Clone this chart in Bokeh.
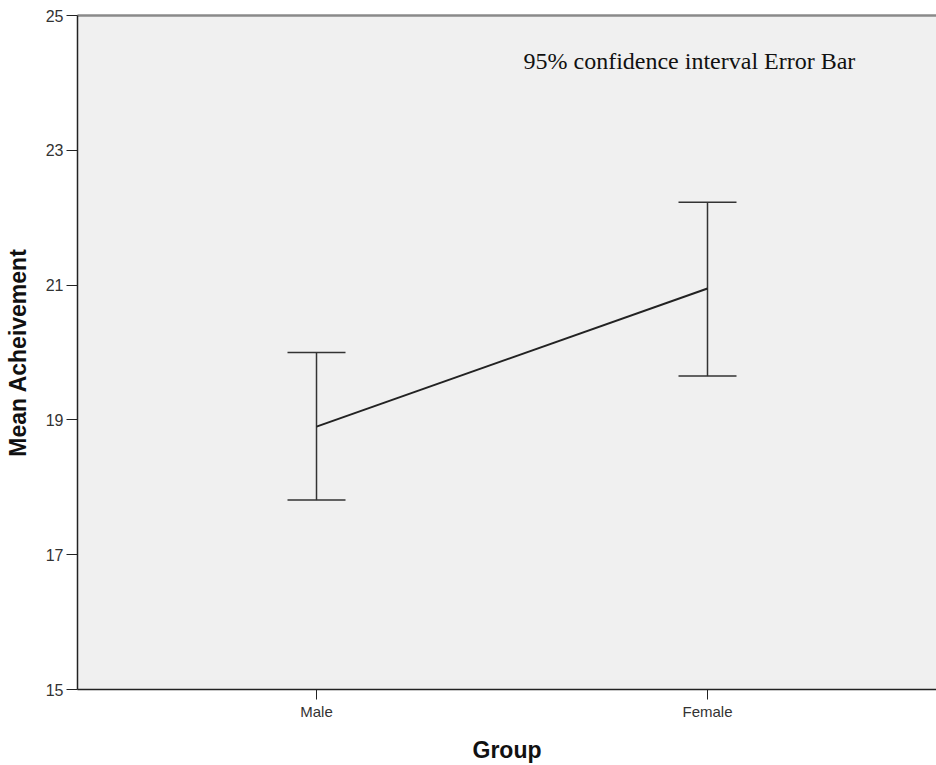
from bokeh.plotting import figure
from bokeh.models import (ColumnDataSource, Whisker, TeeHead, Label, FixedTicker,
                          Range1d, LinearAxis)
from bokeh.embed import file_html
from bokeh.resources import INLINE

groups = ["Male", "Female"]
group_pos = [1, 2]
means = [18.90, 20.95]
upper = [20.00, 22.23]
lower = [17.81, 19.65]
y_ticks = [15, 17, 19, 21, 23, 25]

src = ColumnDataSource(dict(x=group_pos, mean=means, upper=upper, lower=lower))

p = figure(width=936, height=765, output_backend="svg", toolbar_location=None,
           x_range=Range1d(0.3887, 2.5857), y_range=Range1d(15, 25),
           min_border_left=77, min_border_right=0, min_border_top=15, min_border_bottom=74)
p.background_fill_color = "#f0f0f0"
p.border_fill_color = "white"
p.outline_line_color = None
p.xgrid.visible = False
p.ygrid.visible = False

for ax in (p.xaxis[0], p.yaxis[0]):
    ax.axis_line_color = "#222222"
    ax.axis_line_width = 1.5
    ax.major_tick_in = 0
    ax.major_tick_line_color = "#222222"
    ax.minor_tick_line_color = None
    ax.major_label_text_font = "Liberation Sans"
    ax.major_label_text_color = "#333333"
    ax.axis_label_text_font = "Liberation Sans"
    ax.axis_label_text_font_style = "bold"
    ax.axis_label_text_font_size = "23px"
    ax.axis_label_text_color = "#111111"

p.yaxis.ticker = FixedTicker(ticks=y_ticks)
p.yaxis.axis_label = "Mean Acheivement"
p.yaxis.major_tick_out = 11
p.yaxis.major_label_standoff = 3
p.yaxis.axis_label_standoff = 12
p.yaxis.major_label_text_font_size = "16px"

p.xaxis.ticker = FixedTicker(ticks=group_pos)
p.xaxis.major_label_overrides = {1: "Male", 2: "Female"}
p.xaxis.axis_label = "Group"
p.xaxis.major_tick_out = 10
p.xaxis.major_label_standoff = 3
p.xaxis.axis_label_standoff = 14
p.xaxis.major_label_text_font_size = "15px"

top = LinearAxis(axis_line_color="#8a8a8a", axis_line_width=2.5,
                 major_tick_line_color=None, minor_tick_line_color=None,
                 major_label_text_font_size="0px", ticker=FixedTicker(ticks=[]))
p.add_layout(top, "above")

p.line("x", "mean", source=src, line_color="#222222", line_width=2)

w = Whisker(base="x", upper="upper", lower="lower", source=src,
            line_color="#333333", line_width=1.5,
            upper_head=TeeHead(size=58, line_color="#333333", line_width=1.5),
            lower_head=TeeHead(size=58, line_color="#333333", line_width=1.5))
p.add_layout(w)

lab = Label(x=446, y=629, x_units="screen", y_units="screen",
            text="95% confidence interval Error Bar",
            text_font="Liberation Serif", text_font_size="24px",
            text_color="#111111", text_baseline="middle")
p.add_layout(lab)

open("out.html", "w").write(file_html(p, INLINE))
